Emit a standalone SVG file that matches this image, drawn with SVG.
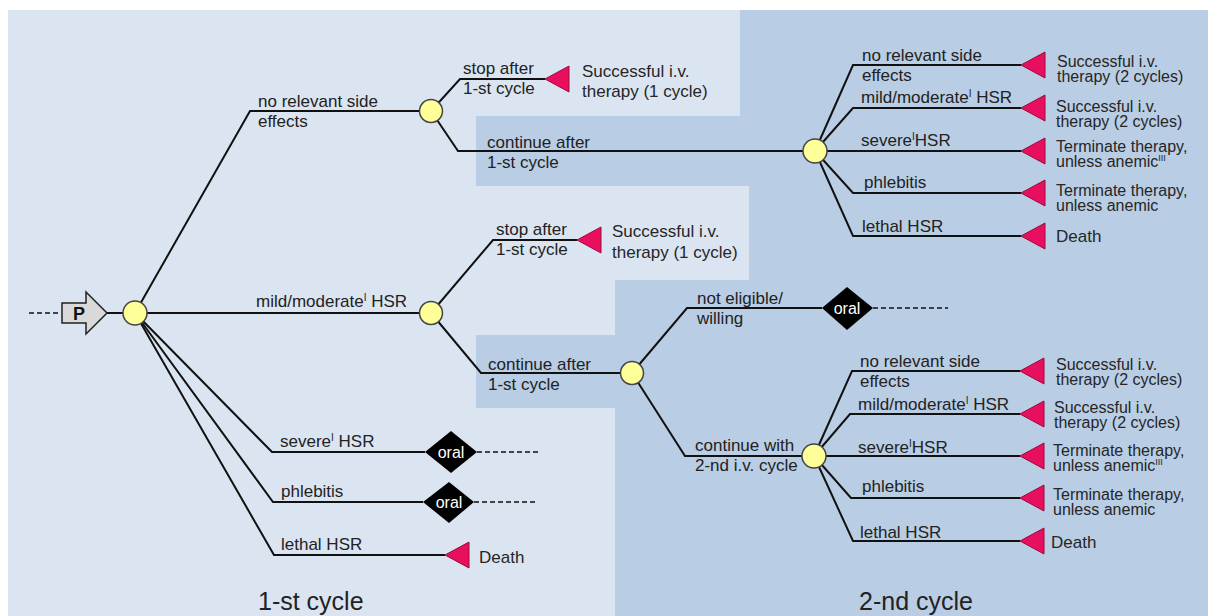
<svg xmlns="http://www.w3.org/2000/svg" width="1208" height="616" viewBox="0 0 1208 616">
<style>
.t{font-family:"Liberation Sans",Arial,sans-serif;font-size:17px;fill:#222}
.tt{font-family:"Liberation Sans",Arial,sans-serif;font-size:17px;fill:#262626}
.tr2{font-family:"Liberation Sans",Arial,sans-serif;font-size:16px;fill:#262626}
.big{font-family:"Liberation Sans",Arial,sans-serif;font-size:25px;fill:#222}
.or{font-family:"Liberation Sans",Arial,sans-serif;font-size:16px;fill:#fff}
.ln{fill:none;stroke:#111;stroke-width:2}
.ds{fill:none;stroke:#111;stroke-width:1.6;stroke-dasharray:5,3}
.ch{fill:#ffff99;stroke:#444;stroke-width:1.5}
.tr{fill:#e8105e;stroke:#9a0a3c;stroke-width:1}
.dm{fill:#000}
</style>
<defs>
<polygon id="tri" class="tr" points="0,0 24,-13 24,13"/>
</defs>
<rect x="0" y="0" width="1208" height="616" fill="#fff"/>
<rect x="8" y="10" width="1200" height="606" fill="#dbe5f1"/>
<polygon fill="#b9cde4" points="740,10 1208,10 1208,616 615,616 615,408 476,408 476,335 615,335 615,280 749,280 749,186 476,186 476,116 740,116"/>

<g id="connectors">
<polyline class="ds" points="29,313 61,313"/>
<line class="ln" x1="107" y1="313" x2="135" y2="313"/>
<polyline class="ln" points="135,313 250,111 431,111"/>
<polyline class="ln" points="135,313 431,313"/>
<polyline class="ln" points="135,313 272,452 425,452"/>
<polyline class="ln" points="135,313 273,502 423,502"/>
<polyline class="ln" points="135,313 274,555 445,555"/>
<polyline class="ln" points="431,111 460,79 545,79"/>
<polyline class="ln" points="431,111 458,151 815,151"/>
<polyline class="ln" points="815,151 853,65 1021,65"/>
<polyline class="ln" points="815,151 853,108 1021,108"/>
<polyline class="ln" points="815,151 1021,151"/>
<polyline class="ln" points="815,151 853,193 1021,193"/>
<polyline class="ln" points="815,151 853,236 1021,236"/>
<polyline class="ln" points="431,313 493,240 577,240"/>
<polyline class="ln" points="431,313 481,373 632,373"/>
<polyline class="ln" points="632,373 687,308 822,308"/>
<polyline class="ln" points="632,373 685,456 814,456"/>
<polyline class="ln" points="814,456 852,371 1020,371"/>
<polyline class="ln" points="814,456 850,414 1020,414"/>
<polyline class="ln" points="814,456 1020,456"/>
<polyline class="ln" points="814,456 851,498 1020,498"/>
<polyline class="ln" points="814,456 853,541 1020,541"/>
<polyline class="ds" points="477,452 538,452"/>
<polyline class="ds" points="474,502 538,502"/>
<polyline class="ds" points="873,308 948,308"/>
</g>

<g id="labels">
<text class="t" x="258" y="107">no relevant side</text>
<text class="t" x="258" y="127">effects</text>
<text class="t" x="256" y="307">mild/moderate<tspan font-size="10" dy="-6">I</tspan><tspan dy="6"> HSR</tspan></text>
<text class="t" x="280" y="447">severe<tspan font-size="10" dy="-6">I</tspan><tspan dy="6"> HSR</tspan></text>
<text class="t" x="281" y="497">phlebitis</text>
<text class="t" x="281" y="550">lethal HSR</text>
<text class="t" x="463" y="74">stop after</text>
<text class="t" x="463" y="94">1-st cycle</text>
<text class="t" x="487" y="148">continue after</text>
<text class="t" x="487" y="168">1-st cycle</text>
<text class="t" x="496" y="235">stop after</text>
<text class="t" x="496" y="255">1-st cycle</text>
<text class="t" x="488" y="370">continue after</text>
<text class="t" x="488" y="390">1-st cycle</text>
<text class="t" x="697" y="304">not eligible/</text>
<text class="t" x="697" y="324">willing</text>
<text class="t" x="695" y="451">continue with</text>
<text class="t" x="695" y="471">2-nd i.v. cycle</text>
<text class="t" x="862" y="61">no relevant side</text>
<text class="t" x="862" y="81">effects</text>
<text class="t" x="861" y="103">mild/moderate<tspan font-size="10" dy="-6">I</tspan><tspan dy="6"> HSR</tspan></text>
<text class="t" x="861" y="146">severe<tspan font-size="10" dy="-6">I</tspan><tspan dy="6">HSR</tspan></text>
<text class="t" x="864" y="188">phlebitis</text>
<text class="t" x="862" y="232">lethal HSR</text>
<text class="t" x="860" y="367">no relevant side</text>
<text class="t" x="860" y="387">effects</text>
<text class="t" x="858" y="410">mild/moderate<tspan font-size="10" dy="-6">I</tspan><tspan dy="6"> HSR</tspan></text>
<text class="t" x="858" y="453">severe<tspan font-size="10" dy="-6">I</tspan><tspan dy="6">HSR</tspan></text>
<text class="t" x="862" y="492">phlebitis</text>
<text class="t" x="860" y="538">lethal HSR</text>
<text class="big" x="258" y="610">1-st cycle</text>
<text class="big" x="859" y="610">2-nd cycle</text>
</g>

<g id="start">
<polygon points="62,303 86,303 86,292 107,313 86,334 86,323 62,323" fill="#d9d9d9" stroke="#222" stroke-width="1.5"/>
<text x="79" y="320" text-anchor="middle" font-family="Liberation Sans,Arial,sans-serif" font-size="18" font-weight="bold" fill="#111">P</text>
</g>

<g id="chance-nodes">
<circle id="c0" class="ch" cx="135" cy="313" r="12"/>
<circle id="c1" class="ch" cx="431" cy="111" r="11.5"/>
<circle id="c2" class="ch" cx="815" cy="151" r="12"/>
<circle id="c3" class="ch" cx="431" cy="313" r="11.5"/>
<circle id="c4" class="ch" cx="632" cy="373" r="11.5"/>
<circle id="c5" class="ch" cx="814" cy="456" r="12"/>
</g>

<g id="oral-nodes">
<g id="oral1"><polygon class="dm" points="425,452 451,431 477,452 451,473"/><text class="or" x="451" y="458" text-anchor="middle">oral</text></g>
<g id="oral2"><polygon class="dm" points="423,502 449,482 474,502 449,523"/><text class="or" x="449" y="508" text-anchor="middle">oral</text></g>
<g id="oral3"><polygon class="dm" points="822,308 847,287 873,308 847,330"/><text class="or" x="847" y="314" text-anchor="middle">oral</text></g>
</g>

<g id="terminal-nodes">
<g id="tA"><use href="#tri" x="545" y="79"/><text class="tt" x="582" y="77">Successful i.v.</text><text class="tt" x="582" y="97">therapy (1 cycle)</text></g>
<g id="tB"><use href="#tri" x="577" y="240"/><text class="tt" x="612" y="237">Successful i.v.</text><text class="tt" x="612" y="258">therapy (1 cycle)</text></g>
<g id="tC"><use href="#tri" x="445" y="555"/><text class="tt" x="479" y="563">Death</text></g>
<g id="t1"><use href="#tri" x="1021" y="65"/><text class="tr2" x="1057" y="67">Successful i.v.</text><text class="tr2" x="1057" y="82">therapy (2 cycles)</text></g>
<g id="t2"><use href="#tri" x="1021" y="108"/><text class="tr2" x="1056" y="112">Successful i.v.</text><text class="tr2" x="1056" y="127">therapy (2 cycles)</text></g>
<g id="t3"><use href="#tri" x="1021" y="151"/><text class="tr2" x="1056" y="152">Terminate therapy,</text><text class="tr2" x="1056" y="167">unless anemic<tspan font-size="9" dy="-6">III</tspan></text></g>
<g id="t4"><use href="#tri" x="1021" y="193"/><text class="tr2" x="1056" y="196">Terminate therapy,</text><text class="tr2" x="1056" y="211">unless anemic</text></g>
<g id="t5"><use href="#tri" x="1021" y="236"/><text class="tt" x="1056" y="242">Death</text></g>
<g id="t6"><use href="#tri" x="1020" y="371"/><text class="tr2" x="1056" y="370">Successful i.v.</text><text class="tr2" x="1056" y="385">therapy (2 cycles)</text></g>
<g id="t7"><use href="#tri" x="1020" y="414"/><text class="tr2" x="1054" y="413">Successful i.v.</text><text class="tr2" x="1054" y="428">therapy (2 cycles)</text></g>
<g id="t8"><use href="#tri" x="1020" y="456"/><text class="tr2" x="1053" y="456">Terminate therapy,</text><text class="tr2" x="1053" y="471">unless anemic<tspan font-size="9" dy="-6">III</tspan></text></g>
<g id="t9"><use href="#tri" x="1020" y="498"/><text class="tr2" x="1053" y="500">Terminate therapy,</text><text class="tr2" x="1053" y="515">unless anemic</text></g>
<g id="t10"><use href="#tri" x="1020" y="541"/><text class="tt" x="1051" y="548">Death</text></g>
</g>
</svg>
